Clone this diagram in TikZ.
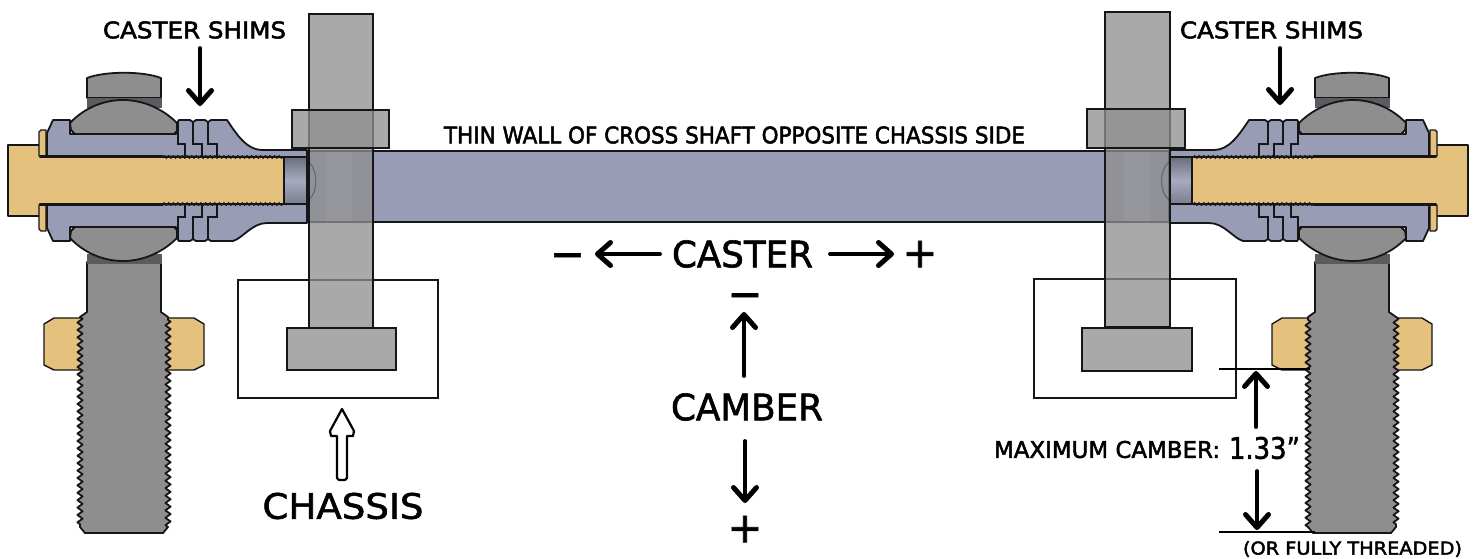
\documentclass[tikz,border=0pt]{standalone}
\usepackage{fontspec}
\setmainfont[FakeBold=1.6]{DejaVu Sans}
\newfontfamily\smallface[FakeBold=2.2]{DejaVu Sans}
\usetikzlibrary{arrows.meta,decorations.pathmorphing,calc}
\definecolor{bluebody}{RGB}{152,156,180}
\definecolor{goldpin}{RGB}{228,193,125}
\definecolor{rodgray}{RGB}{142,142,142}
\definecolor{banddark}{RGB}{92,92,96}
\definecolor{barfill}{RGB}{143,143,143}
\definecolor{inkline}{RGB}{22,22,24}
\newcommand{\fitbox}[3]{\resizebox{#1pt}{#2pt}{#3}}
\tikzset{
  part/.style={draw=inkline,line width=1.8pt,line join=round},
  bodypart/.style={part,fill=bluebody},
  goldpart/.style={part,line width=1.4pt,fill=goldpin},
  graypart/.style={part,fill=rodgray},
  steelpart/.style={draw=inkline,line width=2.3pt,fill=barfill,fill opacity=.76,line join=miter},
  stepline/.style={draw=inkline,line width=1.8pt,line join=miter},
  threads/.style={draw=inkline,line width=1.1pt,decorate,decoration={zigzag,segment length=4.6pt,amplitude=1.3pt}},
  rodthread/.style={decorate,decoration={zigzag,segment length=7.4pt,amplitude=2.6pt}},
  bigarrow/.style={draw=black,line width=3.8pt,line cap=round,-{Straight Barb[length=13pt,width=23pt,line width=5pt,round]}},
  dimline/.style={draw=black,line width=1.8pt},
  chassisbox/.style={draw=inkline,line width=2.2pt,fill=white},
  lab/.style={text=black,inner sep=0pt,outer sep=0pt,anchor=center,font=\fontsize{36}{36}\selectfont},
  labsmall/.style={lab,font=\smallface\fontsize{24}{24}\selectfont},
  sign/.style={lab,font=\fontsize{42}{42}\selectfont},
}
\newcommand{\halfbody}[3]{%
  \path[bodypart] (47,156) -- (47,133) -- (53,120) -- (70,120) -- (70,134) -- (176,134)
    -- (176,124) -- (179,120) -- (190,120) -- (193,122) -- (196,120) -- (205,120) -- (208,122) -- (211,120)
    -- (#1,120) .. controls ({#1+10},{#3-15}) and ({#2-15},#3) .. (#2,#3) -- (307,#3) -- (307,157) -- cycle;
  \path[stepline] (178,122) -- (178,144) -- (185,144) -- (185,156);
  \path[stepline] (193,122) -- (193,144) -- (202,144) -- (202,156);
  \path[stepline] (208,122) -- (208,144) -- (217,144) -- (217,156);
  \path[draw=banddark,fill=banddark,line width=1pt] (87,98) rectangle (161,107);
  \path[graypart] (70,123) .. controls (85,107) and (105,100) .. (123,100)
    .. controls (141,100) and (161,107) .. (177,123) -- (177,131) -- (174,134) -- (75,134) -- (71,130) -- cycle;
  \path[goldpart] (39,156) -- (39,132) -- (41,130) -- (46,130) -- (46,156) -- cycle;
  \path[draw=inkline,line width=2.4pt] (40,156) -- (163,156);
  \path[draw=inkline,line width=1.4pt] (163,156.4) -- (307,156.4);
  \path[threads] (163,157) -- (284,157);
}
\newcommand{\rodend}{%
  % threaded rod and jam nut
  \path[goldpart] (54,318) -- (194,318) -- (204,324) -- (204,365) -- (194,370) -- (54,370) -- (44,365) -- (44,324) -- cycle;
  \path[graypart] (87,262) -- (87,312) -- (80,317) decorate[rodthread]{-- (80,527)} -- (85,533) -- (163,533) -- (168,527)
    decorate[rodthread]{-- (168,317)} -- (161,312) -- (161,262) -- cycle;
  % top cap of the rod end
  \path[graypart] (87,98) -- (87,78) .. controls (105,71) and (143,71) .. (161,78) -- (161,98) -- cycle;
  % gold pin
  \path[goldpart] (8,145) -- (40,145) -- (40,157) -- (284,157) -- (284,204) -- (40,204) -- (40,216) -- (8,216) -- cycle;
  \path[draw=inkline,line width=2pt] (10,144.5) -- (39,144.5);
  % bore
  \path[top color=bluebody!70!black,bottom color=bluebody!80!black,middle color=bluebody!85!white,draw=inkline,line width=1.2pt]
    (284,157) rectangle (307,204);
  \halfbody{227}{262}{150}
  \begin{scope}[cm={1,0,0,-1,(0pt,-361pt)}]
    \halfbody{233}{267}{138}
  \end{scope}
}
\begin{document}
\begin{tikzpicture}[x=1pt,y=-1pt]
\useasboundingbox (0,0) rectangle (1479,558);
\fill[white] (0,0) rectangle (1479,558);

% chassis boxes
\draw[chassisbox] (238,280) rectangle (438,398);
\draw[chassisbox] (1034,279) rectangle (1236,398);

% cross shaft
\draw[draw=inkline,line width=1.6pt,fill=bluebody] (300,151) rectangle (1176,222);

% rod ends
\rodend
\begin{scope}[cm={-1,0,0,1,(1476pt,0pt)}]
\rodend
\end{scope}

% left steel
\path[steelpart] (309,14) rectangle (373,328);
\fill[white,fill opacity=.05] (326,152) rectangle (352,221);
\path[steelpart] (292,110) rectangle (389,148);
\path[steelpart] (287,328) rectangle (396,370);
\draw[draw=black,draw opacity=.28,line width=1.2pt] (309,162) .. controls (318,170) and (318,192) .. (309,200);
% right steel
\path[steelpart] (1105,12) rectangle (1170,327);
\fill[white,fill opacity=.05] (1124,152) rectangle (1150,221);
\path[steelpart] (1087,109) rectangle (1185,148);
\path[steelpart] (1082,328) rectangle (1192,371);
\draw[draw=black,draw opacity=.28,line width=1.2pt] (1169,162) .. controls (1159,170) and (1159,192) .. (1169,200);

% texts
\node[labsmall] (shimsL) at (194.5,30) {\fitbox{183}{17}{CASTER SHIMS}};
\node[labsmall] (shimsR) at (1271.5,30) {\fitbox{183}{17}{CASTER SHIMS}};
\node[labsmall] (thin) at (734.5,135) {\fitbox{581}{17}{THIN WALL OF CROSS SHAFT OPPOSITE CHASSIS SIDE}};
\node[lab] (caster) at (742.5,254) {\fitbox{141}{27}{CASTER}};
\node[lab] (camber) at (747,407) {\fitbox{152}{27}{CAMBER}};
\node[lab] (chassis) at (343,506) {\fitbox{161}{26}{CHASSIS}};
\node[labsmall] (maxc) at (1107,449.5) {\fitbox{226}{17}{MAXIMUM CAMBER:}};
\node[lab] (val) at (1264.5,448) {\fitbox{71}{22}{1.33"}};
\node[labsmall] (fully) at (1352.5,549) {\fitbox{219}{13.5}{(OR FULLY THREADED)}};
\node[sign] (minusC) at (567.5,261) {−};
\node[sign] (plusC) at (920,254) {+};
\node[sign] (minusK) at (745,301) {−};
\node[sign] (plusK) at (745,529) {+};

% arrow ends
\coordinate (a1s) at (200,48);   \coordinate (a1e) at (200,106);
\coordinate (a2s) at (1280,48);  \coordinate (a2e) at (1280,105);
\coordinate (a3s) at (660,254);  \coordinate (a3e) at (595,254);
\coordinate (a4s) at (830,254);  \coordinate (a4e) at (894,254);
\coordinate (a5s) at (744,376);  \coordinate (a5e) at (744,312);
\coordinate (a6s) at (745,441);  \coordinate (a6e) at (745,503);
\coordinate (a7s) at (1256,427); \coordinate (a7e) at (1256,371);
\coordinate (a8s) at (1257,471); \coordinate (a8e) at (1257,530);
\coordinate (d1s) at (1219,369); \coordinate (d1e) at (1310,369);
\coordinate (d2s) at (1219,532); \coordinate (d2e) at (1315,532);

\draw[bigarrow] (a1s) -- (a1e);
\draw[bigarrow] (a2s) -- (a2e);
\draw[bigarrow] (a3s) -- (a3e);
\draw[bigarrow] (a4s) -- (a4e);
\draw[bigarrow] (a5s) -- (a5e);
\draw[bigarrow] (a6s) -- (a6e);
\draw[bigarrow] (a7s) -- (a7e);
\draw[bigarrow] (a8s) -- (a8e);
\draw[dimline] (d1s) -- (d1e);
\draw[dimline] (d2s) -- (d2e);

% hollow chassis arrow
\draw[draw=black,line width=2.2pt,fill=white,line join=round]
  (342,409) -- (354,431) -- (353,436) -- (347,436) -- (347,478) -- (345,480) -- (339,480) -- (337,478)
  -- (337,436) -- (331,436) -- (330,431) -- cycle;
\end{tikzpicture}
\end{document}
